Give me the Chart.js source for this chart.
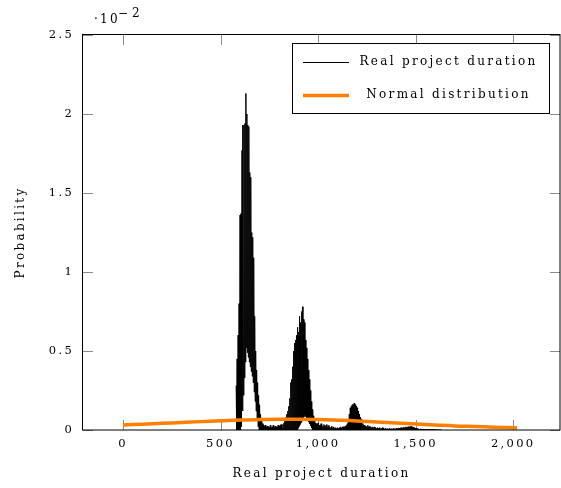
<!DOCTYPE html>
<html><head><meta charset="utf-8">
<script src="https://cdn.jsdelivr.net/npm/chart.js@4/dist/chart.umd.min.js"></script>
<style>html,body{margin:0;padding:0;background:#fff}</style>
</head><body>
<canvas id="c" width="561" height="488"></canvas>
<script>
// ---- data (probabilities in units of 10^-2) ----
const durationStart = 580;      // first sampled duration of the real-project histogram
const durationStep = 5;         // duration spacing between samples
// alternating samples: upper = value at duration d, lower = value at duration d + step/2
const realProbUpper = [
 0.28,0.45,0.6,0.8,1.36,1.37,1.77,1.93,1.93,1.94,
 2.13,2.0,1.93,1.92,1.63,1.6,1.25,1.22,1.09,0.72,
 0.5,0.38,0.3,0.22,0.16,0.1,0.06,0.04,0.03,0.025,
 0.03,0.015,0.025,0.02,0.015,0.03,0.015,0.02,0.03,0.015,
 0.025,0.02,0.015,0.03,0.025,0.03,0.035,0.03,0.035,0.045,
 0.06,0.08,0.1,0.12,0.15,0.2,0.3,0.32,0.4,0.5,
 0.55,0.57,0.6,0.65,0.62,0.72,0.68,0.75,0.78,0.7,
 0.68,0.57,0.52,0.45,0.38,0.32,0.25,0.18,0.13,0.09,
 0.06,0.045,0.04,0.035,0.045,0.03,0.03,0.04,0.035,0.025,
 0.035,0.025,0.03,0.035,0.02,0.03,0.02,0.015,0.025,0.015,
 0.02,0.01,0.015,0.01,0.015,0.01,0.015,0.02,0.015,0.02,
 0.02,0.02,0.025,0.03,0.04,0.05,0.1,0.14,0.15,0.16,
 0.16,0.17,0.16,0.15,0.14,0.12,0.1,0.08,0.07,0.05,
 0.04,0.03,0.03,0.025,0.02,0.03,0.02,0.025,0.02,0.015,
 0.02,0.015,0.02,0.015,0.01,0.015,0.01,0.015,0.01,0.01,
 0.015,0.01,0.005,0.01,0.005,0.008,0.005,0.01,0.005,0.008,
 0.005,0.01,0.008,0.005,0.01,0.008,0.01,0.012,0.01,0.015,
 0.012,0.015,0.018,0.015,0.02,0.018,0.02,0.022,0.02,0.025,
 0.022,0.02,0.018,0.015,0.012,0.01,0.01,0.008,0.005,0.008,
 0.005,0.006,0.004,0.006,0.004,0.005,0.003,0.004,0.003,0.004,
 0.002,0.003,0.002,0.003,0.002,0.002,0.001,0.002,0.001,0.001,
 0
];
const realProbLower = [
 0,0,0,0,0,0.02,0.12,0.22,0.33,0.43,
 0.52,0.49,0.46,0.43,0.4,0.37,0.34,0.3,0.24,0.18,
 0.12,0.06,0.02,0,0,0,0,0,0,0,
 0,0,0,0,0,0,0,0,0,0,
 0,0,0,0,0,0,0,0,0,0,
 0,0,0,0,0,0,0,0,0,0,
 0,0,0,0.012,0.024,0.036,0.048,0.06,0.072,0.084,
 0.095,0.085,0.075,0.062,0.05,0.038,0.025,0.012,0,0,
 0,0,0,0,0,0,0,0,0,0,
 0,0,0,0,0,0,0,0,0,0,
 0,0,0,0,0,0,0,0,0,0,
 0,0,0,0,0,0,0,0,0,0,
 0,0,0,0,0,0,0,0,0,0,
 0,0,0,0,0,0,0,0,0,0,
 0,0,0,0,0,0,0,0,0,0,
 0,0,0,0,0,0,0,0,0,0,
 0,0,0,0,0,0,0,0,0,0,
 0,0,0,0,0,0,0,0,0,0,
 0,0,0,0,0,0,0,0,0,0,
 0,0,0,0,0,0,0,0,0,0,
 0,0,0,0,0,0,0,0,0,0,
 0
];
const normalDurations = [0,100,200,300,400,500,600,700,800,900,1000,1100,1200,1300,1400,1500,1600,1700,1800,1900,2020];
const normalProb = [0.032,0.037,0.042,0.047,0.053,0.058,0.063,0.066,0.068,0.068,0.066,0.062,0.057,0.05,0.044,0.038,0.032,0.026,0.022,0.018,0.014];
const xTicks = [0,500,1000,1500,2000];
const yTicks = [0,0.5,1,1.5,2,2.5];
const seriesLabels = ['Real project duration','Normal distribution'];
const yExponentText = ['\u00B710', '\u22122'];

// ---- build chart tables ----
const realData = [];
for (let i = 0; i < realProbUpper.length; i++) {
  const d = durationStart + durationStep * i;
  realData.push({x: d, y: realProbUpper[i]});
  realData.push({x: d + durationStep / 2, y: realProbLower[i]});
}
const normalData = normalDurations.map((d, i) => ({x: d, y: normalProb[i]}));

const SERIF = '"DejaVu Serif", "Liberation Serif", serif';
const SPACING = '2.3px';
const ORANGE = 'rgb(255,128,0)';

const pgfPlugin = {
  id: 'pgf',
  beforeUpdate(chart) { chart.ctx.letterSpacing = SPACING; },
  beforeDraw(chart) { chart.ctx.letterSpacing = SPACING; },
  beforeDatasetsDraw(chart) {
    const {ctx, chartArea: a, scales: {x, y}} = chart;
    ctx.save();
    ctx.strokeStyle = '#8a8a8a';
    ctx.lineWidth = 1;
    ctx.beginPath();
    x.ticks.forEach(t => {
      const px = Math.round(x.getPixelForValue(t.value)) + 0.5;
      ctx.moveTo(px, a.bottom); ctx.lineTo(px, a.bottom - 10);
      ctx.moveTo(px, a.top); ctx.lineTo(px, a.top + 10);
    });
    y.ticks.forEach(t => {
      const py = Math.round(y.getPixelForValue(t.value)) + 0.5;
      ctx.moveTo(a.left, py); ctx.lineTo(a.left + 10, py);
      ctx.moveTo(a.right, py); ctx.lineTo(a.right - 10, py);
    });
    ctx.stroke();
    ctx.restore();
  },
  afterDatasetsDraw(chart) {
    const {ctx, chartArea: a} = chart;
    ctx.save();
    // axis box
    ctx.strokeStyle = '#000';
    ctx.lineWidth = 1;
    ctx.strokeRect(a.left - 0.5, a.top - 0.5, a.right - a.left + 0.5, a.bottom - a.top + 0.5);
    // legend
    const bx = 292.5, by = 43.5, bw = 257, bh = 70;
    ctx.fillStyle = '#fff';
    ctx.fillRect(bx, by, bw, bh);
    ctx.strokeRect(bx, by, bw, bh);
    const ds = chart.data.datasets;
    const rows = [62.5, 95.5];
    ctx.font = '12px ' + SERIF;
    ctx.letterSpacing = SPACING;
    ctx.textAlign = 'center';
    ctx.textBaseline = 'alphabetic';
    ds.forEach((d, i) => {
      ctx.beginPath();
      ctx.strokeStyle = d.borderColor;
      ctx.lineWidth = d.borderWidth;
      ctx.moveTo(303, rows[i]); ctx.lineTo(349, rows[i]);
      ctx.stroke();
      ctx.fillStyle = '#000';
      ctx.fillText(d.label, 448.5, rows[i] + 2.5);
    });
    // exponent label
    ctx.textAlign = 'left';
    ctx.font = '12px ' + SERIF;
    ctx.fillText(yExponentText[0], 94, 22.7);
    ctx.fillText(yExponentText[1].charAt(0), 118, 16.5);
    ctx.fillText(yExponentText[1].charAt(1), 132, 17.3);
    ctx.restore();
  }
};

new Chart(document.getElementById('c'), {
  type: 'line',
  data: {
    datasets: [
      {label: seriesLabels[0], data: realData, borderColor: '#000', borderWidth: 1,
       pointRadius: 0, tension: 0, borderJoinStyle: 'bevel', order: 2},
      {label: seriesLabels[1], data: normalData, borderColor: ORANGE, borderWidth: 3.5,
       pointRadius: 0, tension: 0.4, borderCapStyle: 'butt', order: 1}
    ]
  },
  options: {
    responsive: false,
    devicePixelRatio: 1,
    animation: false,
    events: [],
    layout: {padding: {top: 35, right: 1, left: 0, bottom: 0}},
    plugins: {legend: {display: false}, tooltip: {enabled: false}},
    scales: {
      x: {
        type: 'linear', min: -205, max: 2240,
        afterBuildTicks: s => { s.ticks = xTicks.map(v => ({value: v})); },
        afterFit: s => { s.height = 58; },
        grid: {display: false, drawTicks: false},
        border: {display: false},
        ticks: {color: '#000', font: {family: SERIF, size: 11.5}, padding: 7, maxRotation: 0, autoSkip: false,
                callback: v => v.toLocaleString('en-US')},
        title: {display: true, text: seriesLabels[0], color: '#000', font: {family: SERIF, size: 12},
                padding: {top: 0, bottom: 7}}
      },
      y: {
        type: 'linear', min: 0, max: 2.5,
        afterBuildTicks: s => { s.ticks = yTicks.map(v => ({value: v})); },
        afterFit: s => { s.width = 83; },
        grid: {display: false, drawTicks: false},
        border: {display: false},
        ticks: {color: '#000', font: {family: SERIF, size: 11.5}, padding: 9, callback: v => String(v)},
        title: {display: true, text: 'Probability', color: '#000', font: {family: SERIF, size: 12},
                padding: {top: 14, bottom: 0}}
      }
    }
  },
  plugins: [pgfPlugin]
});
</script>
</body></html>
